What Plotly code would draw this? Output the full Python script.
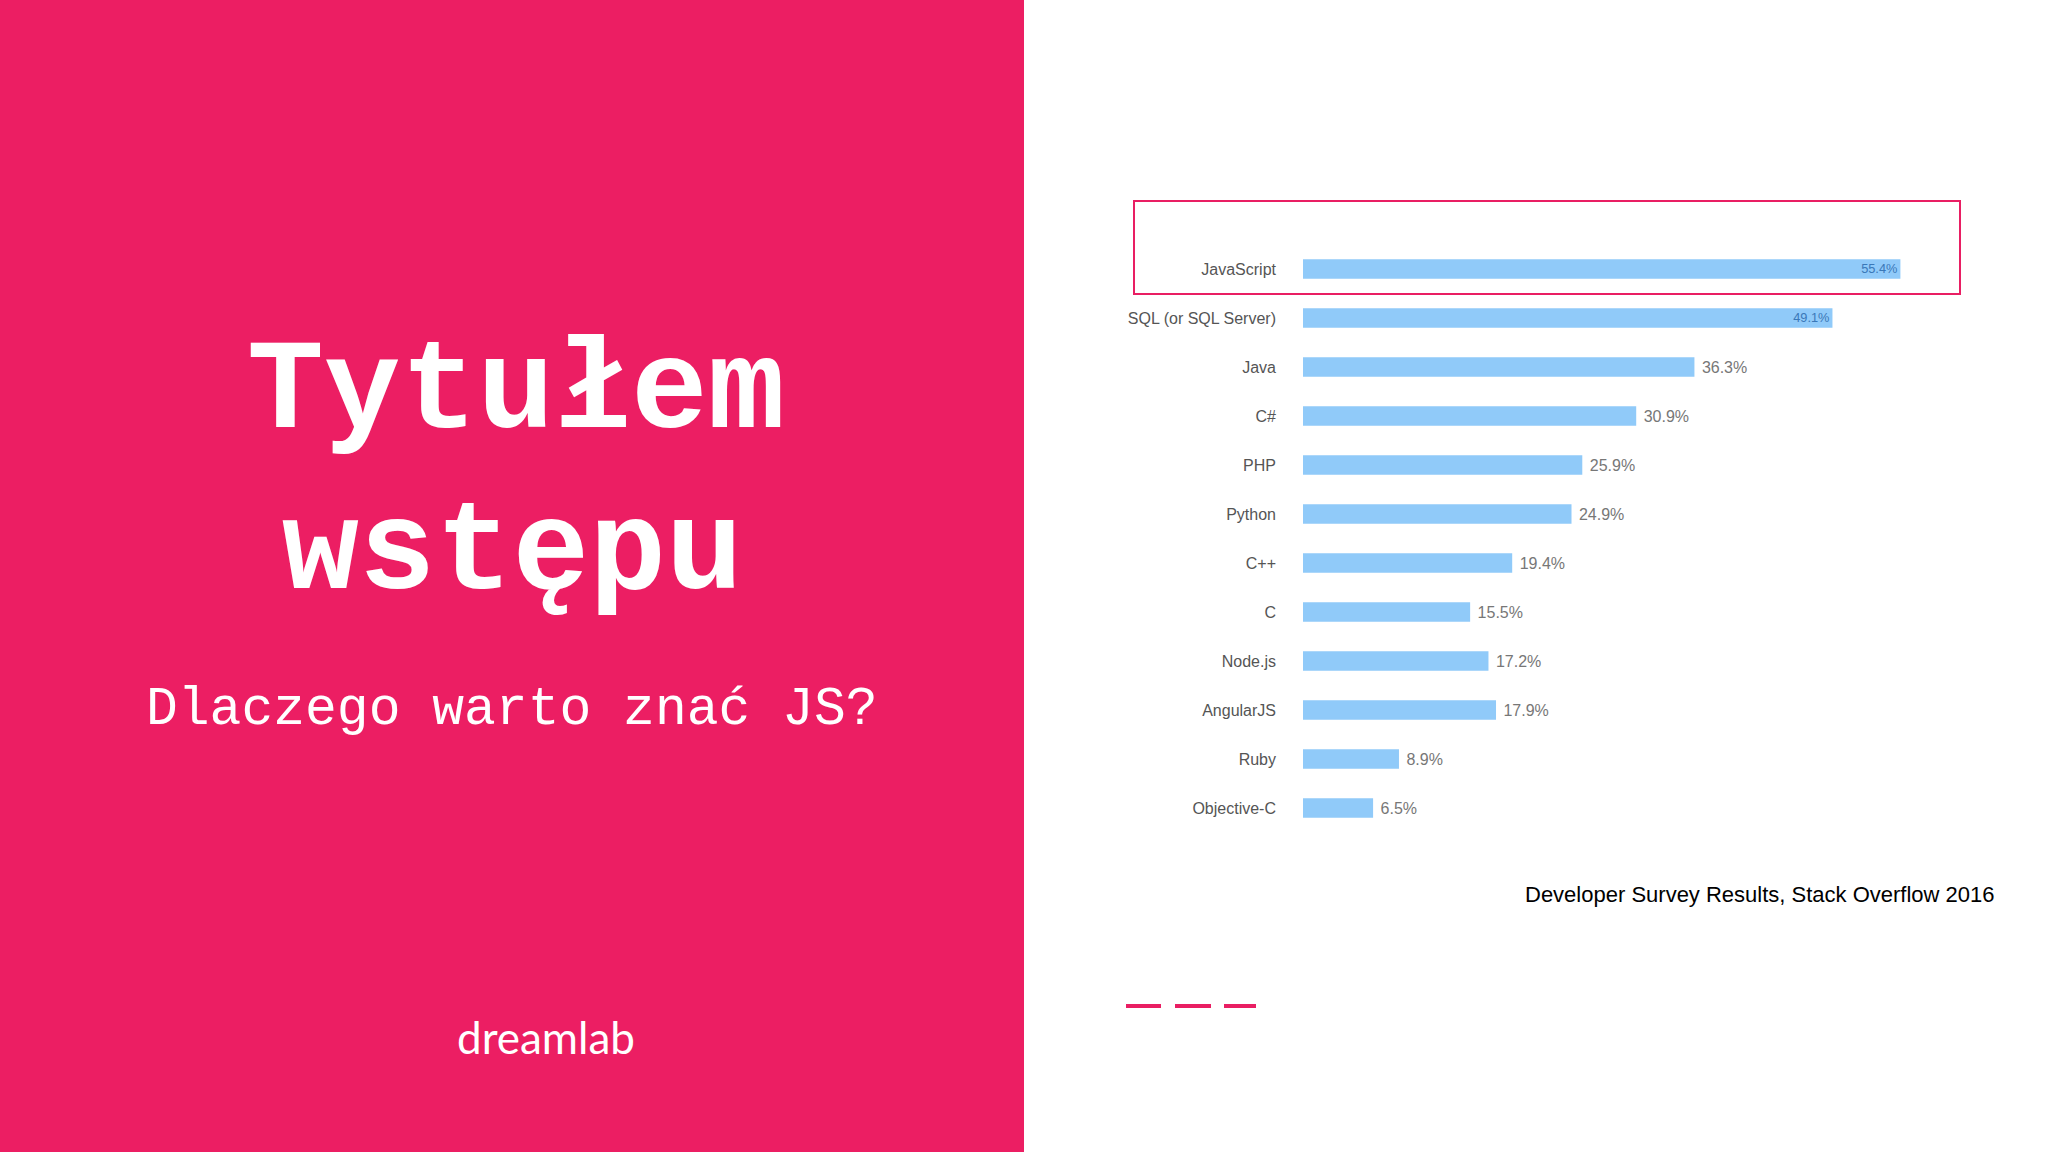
import plotly.graph_objects as go

languages = ["JavaScript", "SQL (or SQL Server)", "Java", "C#", "PHP", "Python",
             "C++", "C", "Node.js", "AngularJS", "Ruby", "Objective-C"]
shares = [55.4, 49.1, 36.3, 30.9, 25.9, 24.9, 19.4, 15.5, 17.2, 17.9, 8.9, 6.5]
labels = [f"{v}%" if v > 45 else f" {v}%" for v in shares]
positions = ["inside" if v > 45 else "outside" for v in shares]
label_colors = ["#3a78b8" if v > 45 else "#777777" for v in shares]

W, H = 2048, 1152
fig = go.Figure(go.Bar(
    x=shares, y=languages, orientation="h",
    marker=dict(color="#90CAF9", line=dict(width=0)),
    width=0.4,
    text=labels, textposition=positions, insidetextanchor="end",
    textfont=dict(family="Liberation Sans, Arial", size=16, color=label_colors),
    cliponaxis=False,
))

fig.update_layout(
    width=W, height=H, margin=dict(l=0, r=0, t=0, b=0),
    paper_bgcolor="white", plot_bgcolor="white", showlegend=False,
    xaxis=dict(range=[0, 60], domain=[1303/W, 1950/W], visible=False),
    yaxis=dict(range=[11.5, -0.5], domain=[1-832.5/H, 1-244.5/H],
               showgrid=False, zeroline=False, showline=False, ticks="",
               ticklabelstandoff=26,
               tickfont=dict(family="Liberation Sans, Arial", size=16, color="#555555")),
    shapes=[
        dict(type="rect", xref="paper", yref="paper", x0=0, x1=0.5, y0=0, y1=1,
             fillcolor="#EC1E63", line=dict(width=0), layer="below"),
        dict(type="rect", xref="paper", yref="paper", x0=1134/W, x1=1960/W,
             y0=1-294/H, y1=1-201/H, line=dict(color="#E91E63", width=2)),
        dict(type="line", xref="paper", yref="paper", x0=1126/W, x1=1161/W,
             y0=1-1006/H, y1=1-1006/H, line=dict(color="#E91E63", width=4)),
        dict(type="line", xref="paper", yref="paper", x0=1175/W, x1=1211/W,
             y0=1-1006/H, y1=1-1006/H, line=dict(color="#E91E63", width=4)),
        dict(type="line", xref="paper", yref="paper", x0=1224/W, x1=1256/W,
             y0=1-1006/H, y1=1-1006/H, line=dict(color="#E91E63", width=4)),
    ],
    annotations=[
        dict(text="<b>Tytułem</b>", x=516/W, y=1-392/H, xref="paper", yref="paper",
             xanchor="center", showarrow=False,
             font=dict(family="Liberation Mono, Courier New", size=128, color="white")),
        dict(text="<b>wstępu</b>", x=512/W, y=1-553/H, xref="paper", yref="paper",
             xanchor="center", showarrow=False,
             font=dict(family="Liberation Mono, Courier New", size=128, color="white")),
        dict(text="Dlaczego warto znać JS?", x=512/W, y=1-710/H, xref="paper", yref="paper",
             xanchor="center", showarrow=False,
             font=dict(family="Liberation Mono, Courier New", size=53, color="white")),
        dict(text="dreamlab", x=546/W, y=1-1065/H, xref="paper", yref="paper",
             xanchor="center", showarrow=False,
             font=dict(family="Lato, Noto Sans", size=44, color="white")),
        dict(text="Developer Survey Results, Stack Overflow 2016", x=1997/W, y=1-909/H,
             xref="paper", yref="paper", xanchor="right", showarrow=False,
             font=dict(family="Liberation Sans, Arial", size=22, color="black")),
    ],
)
fig.write_html("out.html", config={"displayModeBar": False},
               post_script="document.body.style.margin='0';")
